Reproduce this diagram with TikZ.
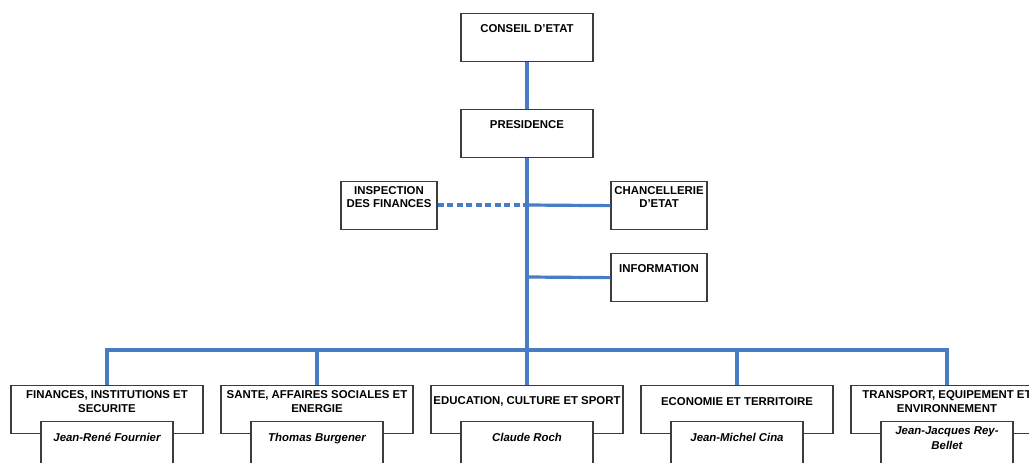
\documentclass[tikz,border=0pt]{standalone}
\usepackage{fontspec}
\setmainfont{Liberation Sans}
\usetikzlibrary{calc}
\definecolor{linkblue}{RGB}{72,124,196}
\definecolor{boxline}{RGB}{60,60,60}
\begin{document}
\begin{tikzpicture}[x=1pt,y=-1pt,
  box/.style={draw=boxline, line width=1.3pt, fill=white, minimum width=#1,
              minimum height=48pt, inner sep=0pt, anchor=north},
  box/.default=132,
  lbl/.style={font=\fontsize{11.4}{13.8}\selectfont\bfseries, align=center, inner sep=0pt},
  person/.style={font=\fontsize{11.4}{14.5}\selectfont\bfseries\itshape, align=center,
                 inner sep=0pt, anchor=base},
  link/.style={draw=linkblue, line width=3.2pt},
  dotlink/.style={link, dash pattern=on 6pt off 3.5pt}]
\useasboundingbox (0,0) rectangle (1029,463);
\clip (0,0) rectangle (1029,463);

% top of the chart
\node[box] (ce) at (527,13) {};
\node[lbl] (ce-t) at ($(ce.north)+(0,16)$) {CONSEIL D'ETAT};
\node[box] (pr) at (527,109) {};
\node[lbl] (pr-t) at ($(pr.north)+(0,16)$) {PRESIDENCE};

% staff units
\node[box=96] (if) at (389,181) {};
\node[lbl] (if-t) at ($(if.north)+(0,16)$) {INSPECTION\\DES FINANCES};
\node[box=96] (ch) at (659,181) {};
\node[lbl] (ch-t) at ($(ch.north)+(0,16)$) {CHANCELLERIE\\D'ETAT};
\node[box=96] (inf) at (659,253) {};
\node[lbl] (inf-t) at ($(inf.north)+(0,16)$) {INFORMATION};

% departments with their heads (last argument: baseline of the last name line)
\foreach \id/\x/\dep/\head/\nb in {
  fin/107/{FINANCES, INSTITUTIONS ET\\SECURITE}/{Jean-René Fournier}/20.2,
  san/317/{SANTE, AFFAIRES SOCIALES ET\\ENERGIE}/{Thomas Burgener}/20.2,
  edu/527/{EDUCATION, CULTURE ET SPORT}/{Claude Roch}/20.2,
  eco/737/{ECONOMIE ET TERRITOIRE}/{Jean-Michel Cina}/20.2,
  tra/947/{TRANSPORT, EQUIPEMENT ET\\ENVIRONNEMENT}/{Jean-Jacques Rey-\\Bellet}/28} {
  \node[box=192] (\id) at (\x,385) {};
  \node[lbl] (\id-t) at ($(\id.north)+(0,16.5)$) {\dep};
  \node[box=132] (\id-h) at (\x,421) {};
  \node[person] (\id-n) at ($(\id-h.north)+(0,\nb)$) {\head};
}

% connectors
\coordinate (j1) at (527,205);
\coordinate (j2) at (527,277);
\coordinate (bus) at (527,350);
\draw[link] (ce.south) -- (pr.north);
\draw[link] (pr.south) -- (bus);
\draw[link] (j1) -- (ch.west);
\draw[link] (j2) -- (inf.west);
\draw[dotlink] (if.east |- j1) -- (j1);
\foreach \id in {fin,san,edu,eco,tra}
  \draw[link] (bus) -| (\id.north);
\end{tikzpicture}
\end{document}
